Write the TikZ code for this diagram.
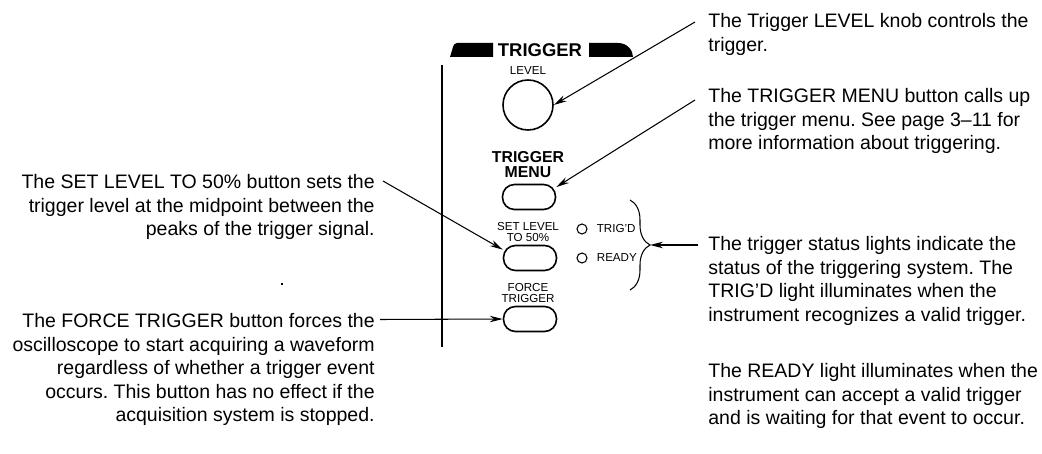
\documentclass[tikz,border=0pt]{standalone}
\usepackage{fontspec}
\setmainfont{Liberation Sans}
\usepackage{tikz}
\usetikzlibrary{positioning,calc,arrows.meta,decorations.pathreplacing}
\frenchspacing

\begin{document}
\begin{tikzpicture}[
  note/.style={inner sep=0pt, font=\fontsize{11.1}{13.3}\selectfont},
  tag/.style={inner sep=0pt, align=center, font=\fontsize{6.6}{6.4}\selectfont},
  btn/.style={draw, line width=0.9pt, rounded corners=0.24cm, minimum width=1.06cm, minimum height=0.5cm, inner sep=0pt},
  lamp/.style={draw, circle, line width=0.6pt, minimum size=0.2cm, inner sep=0pt},
  callout/.style={line width=0.6pt, -{Stealth[length=0.26cm, width=0.13cm]}}
]
  \useasboundingbox (0,0) rectangle (20.84,9.06);

  % Panel header
  \node[inner sep=0pt, font=\fontsize{10.5}{10.5}\selectfont\bfseries] (head) at (10.8,8.06) {TRIGGER};
  \fill (9.0,7.92) -- (9.06,8.12) .. controls (9.08,8.18) .. (9.14,8.2) -- (9.86,8.2) -- (9.86,7.92) -- cycle;
  \fill (11.78,7.92) -- (11.78,8.2) -- (12.36,8.2) .. controls (12.55,8.2) and (12.66,8.05) .. (12.66,7.92) -- cycle;
  \draw[line width=1.3pt] (8.84,7.76) -- (8.84,2.12);

  % Level knob
  \node[tag] (lvltag) at (10.56,7.64) {LEVEL};
  \node[draw, circle, line width=0.9pt, minimum size=1.0cm, inner sep=0pt] (knob) at (10.56,6.96) {};

  % Trigger menu button
  \node[inner sep=0pt, align=center, font=\fontsize{9}{8.6}\selectfont\bfseries] (menutag) at (10.56,5.76) {TRIGGER\\MENU};
  \node[btn] (menubtn) at (10.58,5.12) {};

  % Set level button
  \node[tag] (settag) at (10.56,4.42) {SET LEVEL\\TO 50\%};
  \node[btn] (setbtn) at (10.6,3.9) {};

  % Status lights
  \node[lamp] (trigd) at (11.64,4.48) {};
  \node[tag, right=0.18cm of trigd] (trigdtag) {TRIG'D};
  \node[lamp] (ready) at (11.64,3.9) {};
  \node[tag, right=0.18cm of ready] (readytag) {READY};
  \draw[decorate, decoration={brace, amplitude=0.4cm}, line width=0.6pt] (12.6,5.06) -- (12.6,3.26);
  \coordinate (bracetip) at (13.0,4.16);

  % Force trigger button
  \node[tag] (forcetag) at (10.56,3.2) {FORCE\\TRIGGER};
  \node[btn] (forcebtn) at (10.6,2.68) {};

  % Notes on the right
  \node[note, anchor=north west, align=left] (knobtxt) at (14.16,8.79) {The Trigger LEVEL knob controls the\\trigger.};
  \node[note, anchor=north west, align=left] (menutxt) at (14.16,7.29) {The TRIGGER MENU button calls up\\the trigger menu. See page 3--11 for\\more information about triggering.};
  \node[note, anchor=north west, align=left] (statustxt) at (14.16,4.33) {The trigger status lights indicate the\\status of the triggering system. The\\TRIG'D light illuminates when the\\instrument recognizes a valid trigger.};
  \node[note, anchor=north west, align=left] (readytxt) at (14.16,1.79) {The READY light illuminates when the\\instrument can accept a valid trigger\\and is waiting for that event to occur.};

  % Notes on the left
  \node[note, anchor=north east, align=right] (settxt) at (7.5,5.57) {The SET LEVEL TO 50\% button sets the\\trigger level at the midpoint between the\\peaks of the trigger signal.};
  \node[note, anchor=north east, align=right] (forcetxt) at (7.5,2.79) {The FORCE TRIGGER button forces the\\oscilloscope to start acquiring a waveform\\regardless of whether a trigger event\\occurs. This button has no effect if the\\acquisition system is stopped.};
  \fill (5.62,3.36) rectangle (5.66,3.4);

  % Callouts
  \draw[callout] ([shift={(-0.26,-0.17)}]knobtxt.north west) -- (knob.east);
  \draw[callout] ([shift={(-0.26,-0.23)}]menutxt.north west) -- (menubtn.20);
  \draw[callout] ([shift={(-0.2,-0.17)}]statustxt.north west) -- (bracetip);
  \draw[callout] ([shift={(0.16,-0.13)}]settxt.north east) -- (setbtn.163);
  \draw[callout] ([shift={(0.1,-0.12)}]forcetxt.north east) -- (forcebtn.west);
\end{tikzpicture}
\end{document}
